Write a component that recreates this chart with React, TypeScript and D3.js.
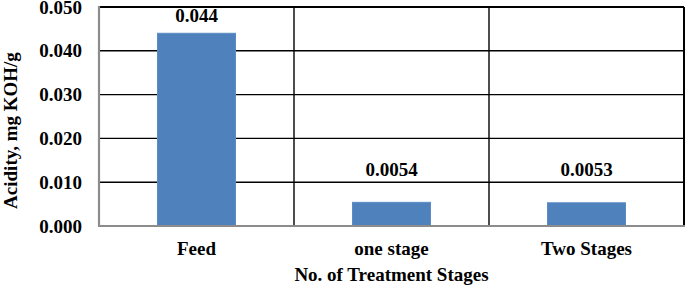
import React from "react";
import * as d3 from "d3";

const categories = ["Feed", "one stage", "Two Stages"];
const values = [0.044, 0.0054, 0.0053];
const valueLabels = ["0.044", "0.0054", "0.0053"];
const yTicks = [0, 0.01, 0.02, 0.03, 0.04, 0.05];

const W = 685, H = 287;
const M = { left: 99, right: 684, top: 7, bottom: 226 };
const FONT = "'Liberation Serif', 'Times New Roman', serif";

export default function App() {
  const x = d3.scaleBand<string>().domain(categories).range([M.left, M.right]).paddingInner(0).paddingOuter(0);
  const y = d3.scaleLinear().domain([0, 0.05]).range([M.bottom, M.top]);
  const bw = x.bandwidth() * 0.4;
  const fmt = d3.format(".3f");
  return (
    <svg width={W} height={H} style={{ position: "absolute", left: 0, top: 0, background: "#fff" }}
      fontFamily={FONT} fontWeight="bold">
      {/* horizontal gridlines */}
      {yTicks.filter(t => t > 0 && t < 0.05).map(t => (
        <line key={t} x1={M.left} x2={M.right} y1={y(t)} y2={y(t)} stroke="#000" strokeWidth={1.4} />
      ))}
      {/* vertical gridlines at category boundaries */}
      {categories.slice(1).map(c => (
        <line key={c} x1={x(c)!} x2={x(c)!} y1={M.top} y2={M.bottom} stroke="#000" strokeWidth={1.4} />
      ))}
      {/* top and right borders */}
      <line x1={M.left} x2={M.right} y1={M.top} y2={M.top} stroke="#000" strokeWidth={2} />
      <line x1={M.right} x2={M.right} y1={M.top} y2={M.bottom} stroke="#000" strokeWidth={2} />
      {/* bars */}
      {categories.map((c, i) => (
        <rect key={c} x={x(c)! + (x.bandwidth() - bw) / 2} y={y(values[i])} width={bw}
          height={y(0) - y(values[i])} fill="#4F81BD" stroke="#5b8cc6" strokeWidth={1} />
      ))}
      {/* axes */}
      <line x1={M.left} x2={M.left} y1={M.top - 1} y2={M.bottom + 1} stroke="#8c8c8c" strokeWidth={2.2} />
      <line x1={M.left - 1} x2={M.right + 1} y1={M.bottom} y2={M.bottom} stroke="#8c8c8c" strokeWidth={2.2} />
      {/* y tick labels */}
      {yTicks.map(t => (
        <text key={t} x={82} y={y(t) + 6.5} textAnchor="end" fontSize={19} fill="#000">{fmt(t)}</text>
      ))}
      {/* value labels */}
      {categories.map((c, i) => (
        <text key={c} x={x(c)! + x.bandwidth() / 2} y={Math.min(y(values[i]) - 11, y(0) - 50)}
          textAnchor="middle" fontSize={19} fill="#000">{valueLabels[i]}</text>
      ))}
      {/* category labels */}
      {categories.map(c => (
        <text key={c} x={x(c)! + x.bandwidth() / 2} y={255} textAnchor="middle" fontSize={19} fill="#000">{c}</text>
      ))}
      <text x={(M.left + M.right) / 2} y={281} textAnchor="middle" fontSize={19} fill="#000">No. of Treatment Stages</text>
      <text transform={`translate(17, ${(M.top + M.bottom) / 2 + 14}) rotate(-90)`} textAnchor="middle" fontSize={19} fill="#000">Acidity, mg KOH/g</text>
    </svg>
  );
}
